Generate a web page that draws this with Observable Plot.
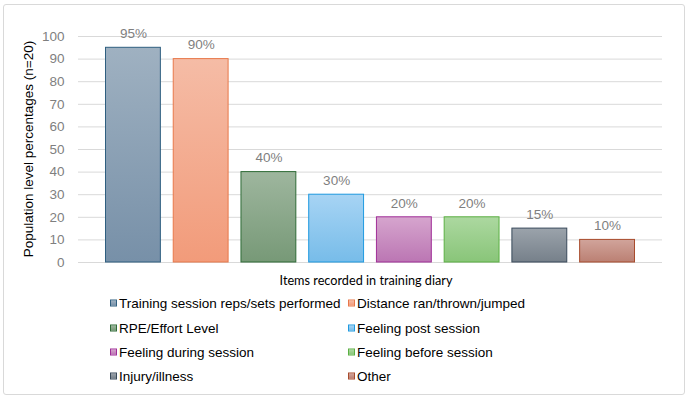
<!DOCTYPE html>
<html><head><meta charset="utf-8">
<script src="https://cdn.jsdelivr.net/npm/d3@7"></script>
<script src="https://cdn.jsdelivr.net/npm/@observablehq/plot@0.6"></script>
<style>
body{margin:0;background:#fff;font-family:Arial,"Liberation Sans",sans-serif;}
#wrap{position:relative;width:688px;height:399px;overflow:hidden;background:#fff;}
#frame{position:absolute;left:3px;top:4px;width:682px;height:391px;border:1px solid #d9d9d9;border-radius:3px;box-sizing:border-box;}
#chart{position:absolute;left:0;top:0;}
#ytitle{position:absolute;left:28px;top:149px;transform:translate(-50%,-50%) rotate(-90deg);white-space:nowrap;font-size:13.5px;color:#000;}
#xtitle{position:absolute;left:366px;top:280px;transform:translate(-50%,-50%);white-space:nowrap;font-family:Lato,"Open Sans",sans-serif;font-size:12.7px;color:#000;}
.leg{position:absolute;display:flex;align-items:center;transform:translateY(-50%);white-space:nowrap;font-size:13.5px;color:#000;}
.sw{width:7px;height:7px;box-sizing:border-box;border:1px solid;margin-right:2px;}
</style></head><body>
<div id="wrap"><div id="frame"></div><div id="chart"></div>
<div id="ytitle"></div><div id="xtitle"></div></div>
<script>
const categories = [
  "Training session reps/sets performed",
  "Distance ran/thrown/jumped",
  "RPE/Effort Level",
  "Feeling post session",
  "Feeling during session",
  "Feeling before session",
  "Injury/illness",
  "Other"
];
const percentages = [95, 90, 40, 30, 20, 20, 15, 10];
const yTicks = [0, 10, 20, 30, 40, 50, 60, 70, 80, 90, 100];
const yTitle = "Population level percentages (n=20)";
const xTitle = "Items recorded in training diary";

const topColors = ["#9fb1c1", "#f5bca6", "#9eb69e", "#a7d4f4", "#d6a5ce", "#acd8a0", "#9ba3ab", "#d1a49b"];
const bottomColors = ["#7790a8", "#f29b7a", "#779977", "#77bce9", "#bb76b3", "#89c579", "#76808a", "#bb8073"];
const strokeColors = ["#2f5f80", "#e8784a", "#2e6b36", "#1f9ae0", "#a02e98", "#5bb043", "#38495a", "#a84b2c"];

const data = categories.map((c, i) => ({category: c, value: percentages[i], idx: i}));

const chart = Plot.plot({
  width: 688, height: 270,
  marginTop: 36, marginBottom: 8, marginLeft: 78, marginRight: 26,
  style: {fontFamily: "Arial, 'Liberation Sans', sans-serif", fontSize: "13.5px", background: "transparent"},
  x: {domain: categories, axis: null, paddingInner: 0.19, paddingOuter: 0.406, round: false},
  y: {domain: [0, 100], axis: null},
  color: {type: "identity"},
  marks: [
    Plot.gridY(yTicks, {stroke: "#d9d9d9", strokeOpacity: 1, strokeWidth: 1}),
    Plot.axisY(yTicks, {tickSize: 0, tickPadding: 14, label: null, color: "#7f7f7f", tickFormat: d => String(d), fontSize: 13.5}),
    Plot.barY(data, {x: "category", y: "value", fill: d => `url(#grad${d.idx})`, stroke: d => strokeColors[d.idx], strokeWidth: 1}),
    Plot.text(data, {x: "category", y: "value", text: d => d.value + "%", dy: -14, fill: "#7f7f7f", fontSize: 13.5})
  ]
});

const ns = "http://www.w3.org/2000/svg";
const defs = document.createElementNS(ns, "defs");
topColors.forEach((c, i) => {
  const g = document.createElementNS(ns, "linearGradient");
  g.setAttribute("id", "grad" + i);
  g.setAttribute("x1", "0"); g.setAttribute("y1", "0");
  g.setAttribute("x2", "0"); g.setAttribute("y2", "1");
  [[0, c], [1, bottomColors[i]]].forEach(([o, col]) => {
    const s = document.createElementNS(ns, "stop");
    s.setAttribute("offset", o);
    s.setAttribute("stop-color", col);
    g.appendChild(s);
  });
  defs.appendChild(g);
});
chart.insertBefore(defs, chart.firstChild);
document.getElementById("chart").appendChild(chart);

document.getElementById("ytitle").textContent = yTitle;
document.getElementById("xtitle").textContent = xTitle;

const wrap = document.getElementById("wrap");
const colX = [110, 348];
const rowY = [303, 327.5, 352, 376];
categories.forEach((c, i) => {
  const el = document.createElement("div");
  el.className = "leg";
  el.style.left = colX[i % 2] + "px";
  el.style.top = rowY[Math.floor(i / 2)] + "px";
  const sw = document.createElement("div");
  sw.className = "sw";
  sw.style.background = `linear-gradient(${topColors[i]}, ${bottomColors[i]})`;
  sw.style.borderColor = strokeColors[i];
  const t = document.createElement("span");
  t.textContent = c;
  el.appendChild(sw); el.appendChild(t);
  wrap.appendChild(el);
});
</script>
</body></html>
